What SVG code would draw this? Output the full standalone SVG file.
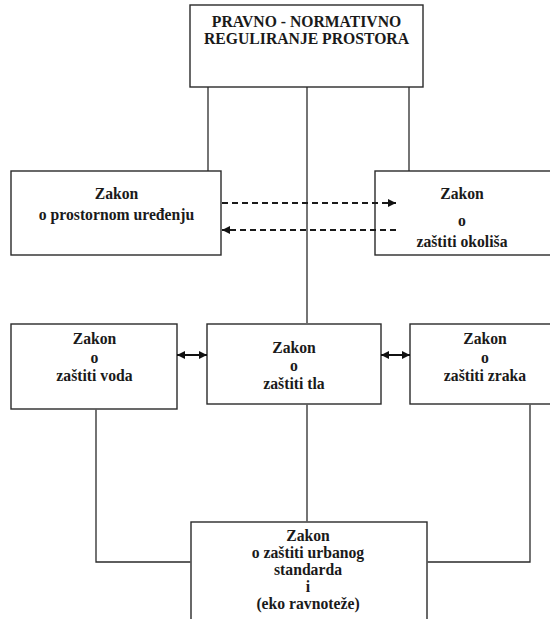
<svg xmlns="http://www.w3.org/2000/svg" width="550" height="619" viewBox="0 0 550 619">
  <style>
    .box { fill: #ffffff; stroke: #2a2a2a; stroke-width: 1.4; }
    .wire { fill: none; stroke: #2a2a2a; stroke-width: 1.3; }
    .dash { fill: none; stroke: #1a1a1a; stroke-width: 1.8; stroke-dasharray: 6 4; }
    .dbl { fill: none; stroke: #111111; stroke-width: 2; }
  </style>
  <defs>
    <marker id="tri" viewBox="0 0 10 10" refX="10" refY="5" markerWidth="9" markerHeight="8" markerUnits="userSpaceOnUse" orient="auto-start-reverse">
      <path d="M0,0 L10,5 L0,10 Z" fill="#111111"/>
    </marker>
  </defs>
  <rect width="550" height="619" fill="#ffffff"/>

  <g font-family="'Liberation Serif', 'Times New Roman', serif" font-weight="bold" font-size="15.7" text-anchor="middle" fill="#1a1a1a">
    <g id="node-pravno">
      <rect class="box" x="190" y="5" width="233" height="82"/>
      <text x="306.5" y="27">PRAVNO - NORMATIVNO</text>
      <text x="306.5" y="44">REGULIRANJE PROSTORA</text>
    </g>

    <g id="node-prostorno">
      <rect class="box" x="11" y="171" width="210" height="84"/>
      <text x="116.5" y="199">Zakon</text>
      <text x="116.5" y="220">o prostornom uređenju</text>
    </g>

    <g id="node-okolis">
      <rect class="box" x="375" y="171" width="180" height="84"/>
      <text x="462" y="199">Zakon</text>
      <text x="462" y="226">o</text>
      <text x="462" y="247">zaštiti okoliša</text>
    </g>

    <g id="node-voda">
      <rect class="box" x="11" y="324" width="166" height="85"/>
      <text x="94.5" y="344">Zakon</text>
      <text x="94.5" y="363">o</text>
      <text x="94.5" y="381">zaštiti voda</text>
    </g>

    <g id="node-tla">
      <rect class="box" x="207" y="324" width="174" height="80"/>
      <text x="294" y="353">Zakon</text>
      <text x="294" y="371">o</text>
      <text x="294" y="389">zaštiti tla</text>
    </g>

    <g id="node-zrak">
      <rect class="box" x="410" y="324" width="150" height="80"/>
      <text x="485" y="344">Zakon</text>
      <text x="485" y="363">o</text>
      <text x="485" y="381">zaštiti zraka</text>
    </g>

    <g id="node-urbani">
      <rect class="box" x="191" y="522" width="236" height="110"/>
      <text x="308" y="541">Zakon</text>
      <text x="308" y="558">o zaštiti urbanog</text>
      <text x="308" y="575">standarda</text>
      <text x="308" y="592">i</text>
      <text x="308" y="609">(eko ravnoteže)</text>
    </g>
  </g>

  <!-- connectors, drawn over the boxes so the dashed arrows reach inside -->
  <g id="connectors">
    <line class="wire" x1="208" y1="87" x2="208" y2="171"/>
    <line class="wire" x1="409" y1="87" x2="409" y2="171"/>
    <line class="wire" x1="307" y1="87" x2="307" y2="323"/>
    <line class="dash" x1="222" y1="203" x2="396" y2="203" marker-end="url(#tri)"/>
    <line class="dash" x1="396" y1="230" x2="222" y2="230" marker-end="url(#tri)"/>
    <line class="dbl" x1="177" y1="355" x2="207" y2="355" marker-start="url(#tri)" marker-end="url(#tri)"/>
    <line class="dbl" x1="381" y1="355" x2="410" y2="355" marker-start="url(#tri)" marker-end="url(#tri)"/>
    <polyline class="wire" points="96,409.7 96,562 190.3,562"/>
    <line class="wire" x1="307" y1="404.7" x2="307" y2="521.3"/>
    <polyline class="wire" points="530,404.7 530,562 427.7,562"/>
  </g>
</svg>
